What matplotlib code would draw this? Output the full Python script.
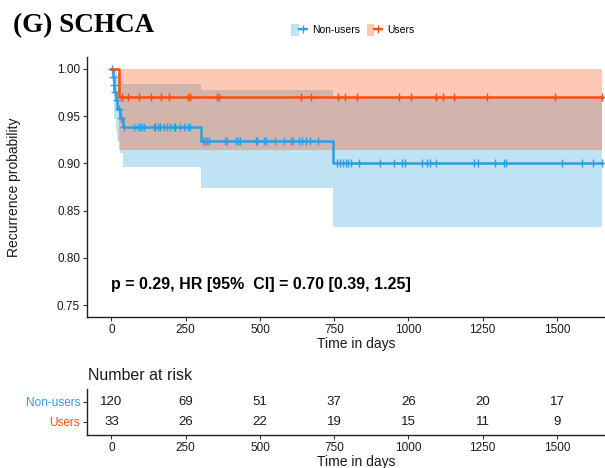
import numpy as np
import matplotlib
matplotlib.use('Agg')
import matplotlib.pyplot as plt
from matplotlib.patches import Patch
from matplotlib.lines import Line2D
from matplotlib.legend_handler import HandlerTuple

plt.rcParams['font.family'] = ['Liberation Sans', 'DejaVu Sans']

# Kaplan-Meier step values
nonuser_time = [0, 4, 7, 10, 14, 20, 28, 40, 302, 745]
nonuser_surv = [1.0, 0.991, 0.983, 0.975, 0.967, 0.958, 0.948, 0.938, 0.924, 0.900]
nonuser_lower = [1.0, 0.974, 0.960, 0.947, 0.935, 0.924, 0.911, 0.896, 0.874, 0.833]
nonuser_upper = [1.0, 1.0, 1.0, 1.0, 0.999, 0.993, 0.987, 0.984, 0.978, 0.969]

user_time = [0, 26]
user_surv = [1.0, 0.970]
user_lower = [1.0, 0.914]
user_upper = [1.0, 1.0]

end_time = 1652

# censoring times
nonuser_censor = [2, 6, 9, 13, 18, 25, 33,
                  41, 75, 89, 95, 103, 109, 142, 148, 156, 165, 176, 187, 198,
                  210, 215, 232, 243, 257, 264,
                  307, 314, 322, 330, 381, 390, 420, 427, 434, 485, 491, 513,
                  521, 552, 580, 606, 612, 633, 642, 656, 670, 696,
                  760, 771, 779, 788, 797, 808, 835, 903, 951, 979, 990, 1046,
                  1063, 1074, 1094, 1220, 1233, 1293, 1321, 1327, 1517, 1585,
                  1622, 1652]
user_censor = [36, 55, 92, 134, 167, 193, 258, 266, 356, 361, 639, 673, 762,
               785, 827, 967, 1007, 1094, 1117, 1153, 1263, 1495, 1652]

# number at risk
risk_times = [0, 250, 500, 750, 1000, 1250, 1500]
nonuser_risk = [120, 69, 51, 37, 26, 20, 17]
user_risk = [33, 26, 22, 19, 15, 11, 9]

groups = ['Non-users', 'Users']
colors = ['#2E9FDF', '#FC4E07']
text_col = '#1a1a1a'

fig = plt.figure(figsize=(6.05, 4.68), dpi=100)
W, H = 605, 468
ax = fig.add_axes([87 / W, (H - 317) / H, 539 / W, 260 / H])

curves = [
    (nonuser_time, nonuser_surv, nonuser_lower, nonuser_upper, nonuser_censor),
    (user_time, user_surv, user_lower, user_upper, user_censor),
]

for (t, s, lo, up, cens), col in zip(curves, colors):
    tt = np.append(t, end_time)
    ll = np.append(lo, lo[-1])
    uu = np.append(up, up[-1])
    ax.fill_between(tt, ll, uu, step='post', color=col, alpha=0.3, lw=0)

for (t, s, lo, up, cens), col in zip(curves, colors):
    tt = np.append(t, end_time)
    ss = np.append(s, s[-1])
    ax.step(tt, ss, where='post', color=col, lw=1.8)
    idx = np.searchsorted(t, cens, side='right') - 1
    ax.plot(cens, np.array(s)[idx], ls='none', marker='+', ms=6, mew=1,
            color=col)

ax.set_xlim(-82.5, 1732.5)
ax.set_ylim(0.7375, 1.0125)
ax.set_xticks(risk_times)
ax.set_yticks([0.75, 0.80, 0.85, 0.90, 0.95, 1.00])
ax.set_yticklabels(['0.75', '0.80', '0.85', '0.90', '0.95', '1.00'])
ax.spines[['top', 'right']].set_visible(False)
for sp in ['left', 'bottom']:
    ax.spines[sp].set_linewidth(1.0)
    ax.spines[sp].set_color('#222222')
ax.tick_params(labelsize=8.5, labelcolor=text_col, length=3, color='#333333',
               pad=2)
ax.set_xlabel('Time in days', fontsize=10, color=text_col, labelpad=1)
ax.set_ylabel('Recurrence probability', fontsize=10, color=text_col,
              labelpad=26)

ax.text(0, 0.772, 'p = 0.29, HR [95%  CI] = 0.70 [0.39, 1.25]',
        fontsize=11.5, fontweight='bold', ha='left', va='center',
        color='black')

# legend
handles = [(Patch(facecolor=c, alpha=0.3, lw=0),
            Line2D([], [], color=c, lw=1.6, marker='+', ms=6, mew=1))
           for c in colors]
fig.legend(handles, groups, loc='center', bbox_to_anchor=(353 / W, 1 - 30 / H),
           ncol=2, frameon=False, fontsize=7.5, handlelength=1.5,
           handleheight=1.5, handletextpad=0.5, columnspacing=0.6,
           handler_map={tuple: HandlerTuple(ndivide=None, pad=0)})

fig.text(13 / W, 1 - 26 / H, '(G) SCHCA', fontsize=19.5, fontweight='bold',
         family='Liberation Serif', ha='left', va='center')

# risk table
axr = fig.add_axes([87 / W, (H - 435) / H, 539 / W, 46 / H])
for row, (vals, col) in enumerate(zip([nonuser_risk, user_risk], colors)):
    y = 2 - row
    for t, v in zip(risk_times, vals):
        axr.text(t, y, str(v), ha='center', va='center', fontsize=9.5,
                 color=text_col)
axr.set_xlim(-82.5, 1732.5)
axr.set_ylim(0.335, 2.635)
axr.set_xticks(risk_times)
axr.set_yticks([2, 1])
axr.set_yticklabels(groups)
for lab, col in zip(axr.get_yticklabels(), colors):
    lab.set_color(col)
axr.spines[['top', 'right']].set_visible(False)
for sp in ['left', 'bottom']:
    axr.spines[sp].set_linewidth(1.0)
    axr.spines[sp].set_color('#222222')
axr.tick_params(axis='x', labelsize=8.5, labelcolor=text_col, length=3,
                color='#333333', pad=2)
axr.tick_params(axis='y', labelsize=8.5, length=3, color='#333333', pad=2)
axr.set_xlabel('Time in days', fontsize=10, color=text_col, labelpad=1)
fig.text(88 / W, 1 - 375 / H, 'Number at risk', fontsize=11.5, color=text_col,
         ha='left', va='center')

fig.savefig('out.png', dpi=100)
